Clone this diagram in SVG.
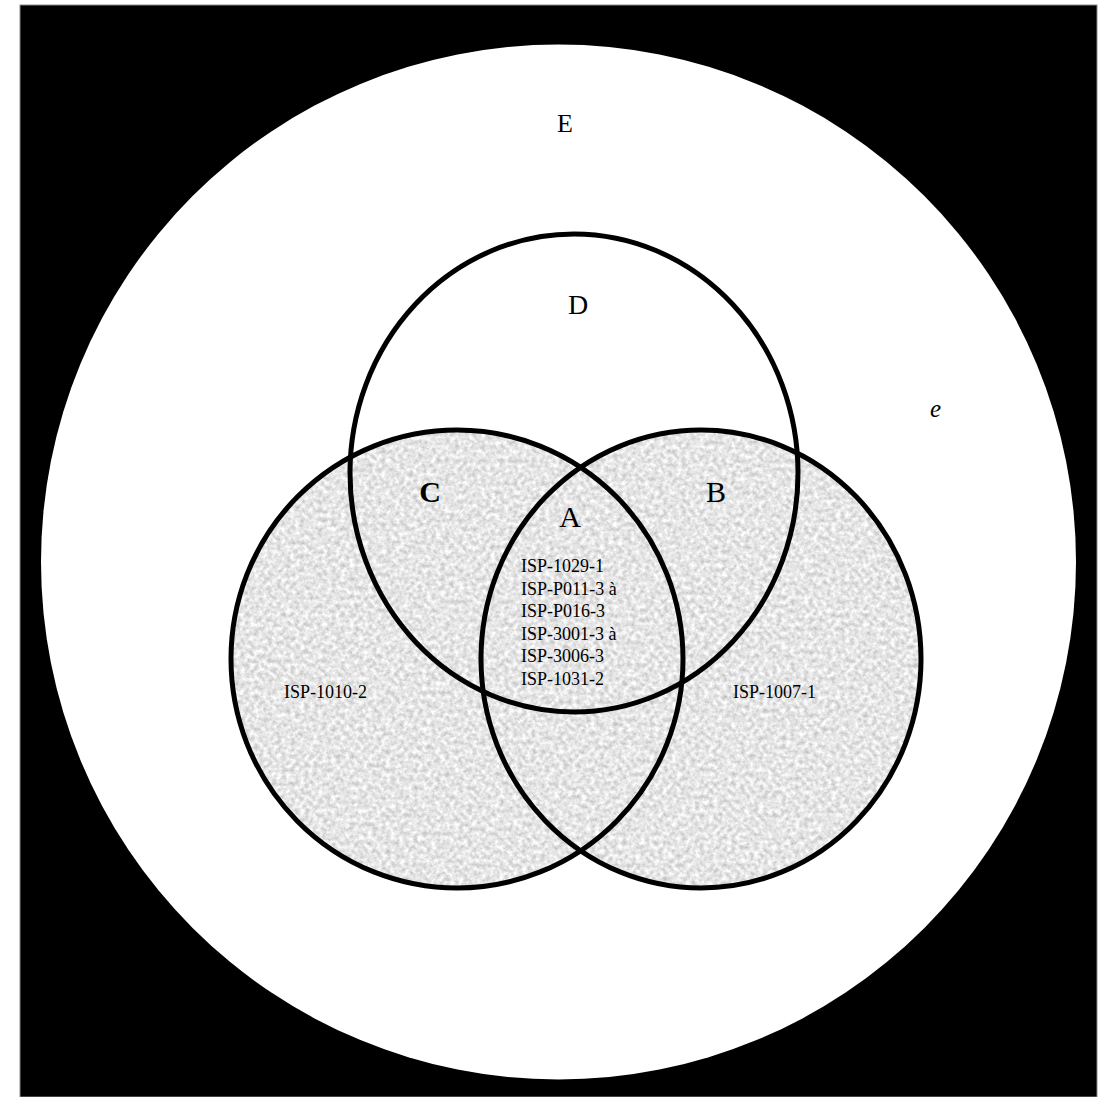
<svg xmlns="http://www.w3.org/2000/svg" width="1110" height="1097" viewBox="0 0 1110 1097">
<style>
.lbl{font-family:"Liberation Serif","Times New Roman",serif;fill:#000}
.ring{fill:none;stroke:#000;stroke-width:5}
.isp{font-family:"Liberation Serif","Times New Roman",serif;font-size:18px;fill:#000}
</style>
<defs>
<filter id="granite" x="0" y="0" width="100%" height="100%" color-interpolation-filters="sRGB">
<feTurbulence type="fractalNoise" baseFrequency="0.22" numOctaves="3" seed="7" result="n"/>
<feColorMatrix in="n" type="matrix" values="0.38 0 0 0 0.71  0.38 0 0 0 0.71  0.38 0 0 0 0.71  0 0 0 0 1" result="g"/>
<feComposite in="g" in2="SourceAlpha" operator="in"/>
</filter>
</defs>
<rect x="0" y="0" width="1110" height="1097" fill="#fff"/>
<rect x="20" y="5" width="1077" height="1092" fill="#000" stroke="#888" stroke-width="1"/>
<g id="E">
<circle cx="558.5" cy="562" r="517.5" fill="#fff"/>
<text class="lbl" x="565" y="132" font-size="26" text-anchor="middle">E</text>
<text class="lbl" x="930" y="417" font-size="25" font-style="italic">e</text>
</g>
<g id="texture" filter="url(#granite)">
<ellipse cx="457" cy="659" rx="226" ry="229" fill="#000"/>
<ellipse cx="701" cy="659" rx="220" ry="229" fill="#000"/>
</g>
<g id="C">
<ellipse class="ring" cx="457" cy="659" rx="226" ry="229"/>
<text class="lbl" x="430" y="502" font-size="30" font-weight="bold" text-anchor="middle">C</text>
<text class="isp" x="284" y="698">ISP-1010-2</text>
</g>
<g id="B">
<ellipse class="ring" cx="701" cy="659" rx="220" ry="229"/>
<text class="lbl" x="716" y="502" font-size="30" text-anchor="middle">B</text>
<text class="isp" x="733" y="698">ISP-1007-1</text>
</g>
<g id="D">
<ellipse class="ring" cx="574" cy="473" rx="224" ry="239"/>
<text class="lbl" x="578" y="314" font-size="28" text-anchor="middle">D</text>
</g>
<g id="A">
<text class="lbl" x="570" y="527" font-size="30" text-anchor="middle">A</text>
<text class="isp" x="521" y="572">ISP-1029-1</text>
<text class="isp" x="521" y="594.5">ISP-P011-3 à</text>
<text class="isp" x="521" y="617">ISP-P016-3</text>
<text class="isp" x="521" y="639.5">ISP-3001-3 à</text>
<text class="isp" x="521" y="662">ISP-3006-3</text>
<text class="isp" x="521" y="684.5">ISP-1031-2</text>
</g>
</svg>
